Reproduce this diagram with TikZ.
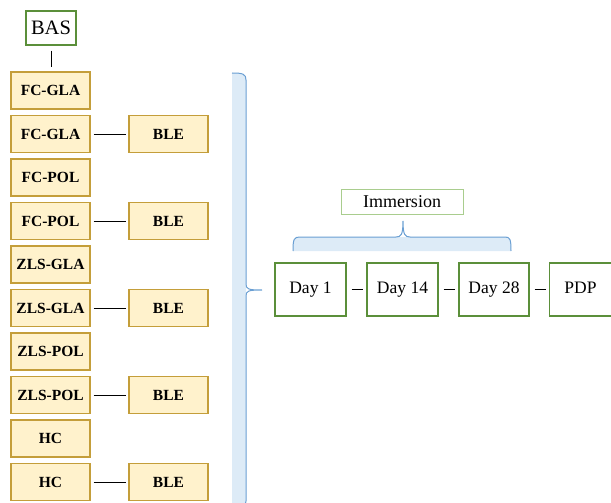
\documentclass[tikz,border=0pt]{standalone}
\usepackage{fontspec}
\setmainfont{Liberation Serif}
\definecolor{boxfill}{HTML}{FFF2CC}
\definecolor{boxline}{RGB}{196,158,58}
\definecolor{dgreen}{HTML}{5B8F3A}
\definecolor{lgreen}{HTML}{A9CD8E}
\definecolor{bline}{HTML}{6A9FD3}
\definecolor{bfill}{HTML}{DDEBF7}
\tikzset{
  ybox/.style={draw=boxline, fill=boxfill, line width=1.1pt, minimum width=79pt, minimum height=37pt, inner sep=0pt, text height=10.5pt, text depth=0pt, font=\fontsize{15.5}{16}\selectfont\bfseries},
  gbox/.style={draw=dgreen, line width=1.4pt, minimum height=53pt, inner sep=0pt, text height=12pt, text depth=3.5pt, font=\fontsize{17.5}{19}\selectfont},
  link/.style={draw=black, line width=0.9pt},
}
\begin{document}
\begin{tikzpicture}[x=1pt,y=-1pt]
\useasboundingbox (0,0) rectangle (611,503);
\clip (0,0) rectangle (611,503);
% big vertical brace
\fill[bfill] (232,73) .. controls (243,73) and (246,74) .. (246,80) -- (246,501) .. controls (246,506) and (243,507) .. (232,507) -- cycle;
\draw[bline, line width=1pt] (232,73) .. controls (243,73) and (246,74) .. (246,80) -- (246,284) .. controls (246,289) and (248,290) .. (262,290) .. controls (248,290) and (246,291) .. (246,296) -- (246,501) .. controls (246,506) and (243,507) .. (232,507);
% horizontal brace
\fill[bfill] (293,251) -- (293,246) .. controls (293,239) and (294,237) .. (300,237) -- (505,237) .. controls (510,237) and (511,239) .. (511,246) -- (511,251) -- cycle;
\draw[bline, line width=1pt] (293,251) .. controls (293,239) and (294,237) .. (300,237) -- (396,237) .. controls (401,237) and (403,235) .. (403,221) .. controls (403,235) and (405,237) .. (410,237) -- (505,237) .. controls (510,237) and (511,239) .. (511,251);
% BAS
\node[draw=dgreen, line width=1.4pt, minimum width=50pt, minimum height=34pt, inner sep=0pt, font=\fontsize{20.5}{22}\selectfont] (bas) at (51,28) {BAS};
% left column
\node[ybox] (r1) at (50.5,90.5) {FC-GLA};
\node[ybox] (r2) at (50.5,134) {FC-GLA};
\node[ybox] (r3) at (50.5,177.5) {FC-POL};
\node[ybox] (r4) at (50.5,221) {FC-POL};
\node[ybox] (r5) at (50.5,264.5) {ZLS-GLA};
\node[ybox] (r6) at (50.5,308) {ZLS-GLA};
\node[ybox] (r7) at (50.5,351.5) {ZLS-POL};
\node[ybox] (r8) at (50.5,395) {ZLS-POL};
\node[ybox] (r9) at (50.5,438.5) {HC};
\node[ybox] (r10) at (50.5,482) {HC};
\node[ybox] (b2) at (168.5,134) {BLE};
\node[ybox] (b4) at (168.5,221) {BLE};
\node[ybox] (b6) at (168.5,308) {BLE};
\node[ybox] (b8) at (168.5,395) {BLE};
\node[ybox] (b10) at (168.5,482) {BLE};
\draw[link, shorten <=5pt, shorten >=4pt] (bas.south) -- (bas.south |- r1.north);
\foreach \i in {2,4,6,8,10} {
  \draw[link, shorten <=3pt, shorten >=2pt] (r\i.east) -- (b\i.west);
}
% right side
\node[draw=lgreen, line width=1pt, minimum width=122pt, minimum height=25pt, inner sep=0pt, font=\fontsize{18}{20}\selectfont] (imm) at (402,201.5) {Immersion};
\node[gbox, minimum width=71pt] (d1) at (310.5,289.5) {Day 1};
\node[gbox, minimum width=71pt] (d14) at (402.5,289.5) {Day 14};
\node[gbox, minimum width=70pt] (d28) at (494,289.5) {Day 28};
\node[gbox, minimum width=62pt] (pdp) at (580.5,289.5) {PDP};
\draw[link, shorten <=5pt, shorten >=3pt] (d1.east) -- (d14.west);
\draw[link, shorten <=5pt, shorten >=3pt] (d14.east) -- (d28.west);
\draw[link, shorten <=5pt, shorten >=3pt] (d28.east) -- (pdp.west);
\end{tikzpicture}
\end{document}
